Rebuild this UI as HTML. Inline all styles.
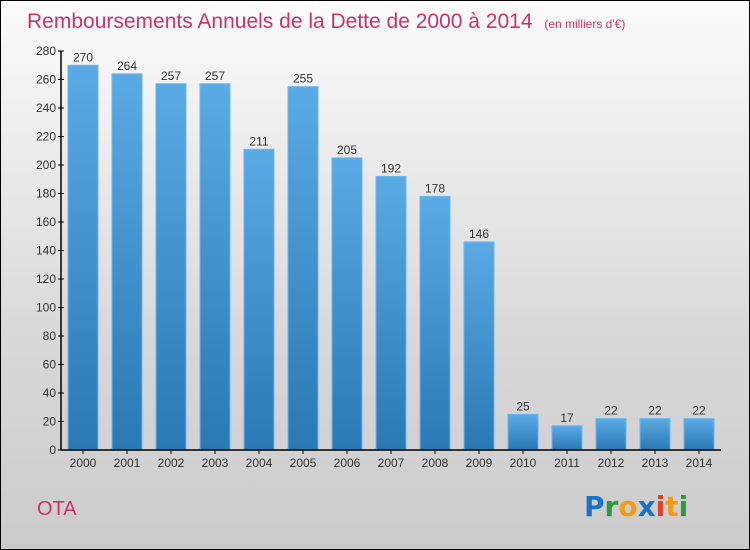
<!DOCTYPE html>
<html><head><meta charset="utf-8"><style>
body{margin:0}
#c{width:748px;height:548px;border:1px solid #000;background:linear-gradient(#fbfbfb,#d9d9d9 60%,#cbcbcb);position:relative;font-family:"Liberation Sans",sans-serif;overflow:hidden}
</style></head><body>
<div id="c">
<svg width="748" height="548" style="position:absolute;left:0;top:0">
<defs><linearGradient id="g" x1="0" y1="0" x2="0" y2="1"><stop offset="0" stop-color="#5aaae6"/><stop offset="1" stop-color="#2a78b4"/></linearGradient></defs>
<text x="26" y="27" font-size="21" fill="#c8346b">Remboursements Annuels de la Dette de 2000 à 2014 <tspan font-size="12" dx="6">(en milliers d'€)</tspan></text>
<g id="plot"></g>
<text x="36" y="514" font-size="20" fill="#c8346b">OTA</text>
<g font-size="28" font-weight="bold" font-family="DejaVu Sans, sans-serif">
<text x="583" y="515"><tspan fill="#1a73c8">P</tspan><tspan fill="#2a9a3a">r</tspan><tspan fill="#f39a1a">o</tspan><tspan fill="#1a73c8">x</tspan><tspan fill="#e0402a">i</tspan><tspan fill="#f39a1a">t</tspan><tspan fill="#2a9a3a">i</tspan></text></g>
</svg>
</div>
<script>
const years=["2000","2001","2002","2003","2004","2005","2006","2007","2008","2009","2010","2011","2012","2013","2014"];
const values=[270,264,257,257,211,255,205,192,178,146,25,17,22,22,22];
const yTicks=[0,20,40,60,80,100,120,140,160,180,200,220,240,260,280];
const NS="http://www.w3.org/2000/svg";
const x0=60,band=44,y0=449,yMax=280,ph=399;
const y=v=>y0-v/yMax*ph;
const g=document.getElementById('plot');
function mk(t,a,txt){const e=document.createElementNS(NS,t);for(const k in a)e.setAttribute(k,a[k]);if(txt!==undefined)e.textContent=txt;g.appendChild(e);return e;}
yTicks.forEach(t=>{
const l=mk('line',{x1:x0-3,x2:x0+3,y1:y(t),y2:y(t),stroke:'#000'});


const tx=mk('text',{x:x0-5,y:y(t)+4,'font-size':12,fill:'#333','text-anchor':'end'},t);


});
values.forEach((v,i)=>{
const bx=x0+i*band+7;
const r=mk('rect',{x:bx,y:y(v),width:30,height:y0-y(v),fill:'url(#g)',stroke:'#6bb6ec','stroke-width':1});


const vl=mk('text',{x:bx+15,y:y(v)-4,'font-size':12,fill:'#333','text-anchor':'middle'},v);


const tk=mk('line',{x1:bx+15,x2:bx+15,y1:y0,y2:y0+4,stroke:'#000'});


const xl=mk('text',{x:bx+15,y:y0+17,'font-size':12,fill:'#333','text-anchor':'middle'},years[i]);


});
const ya=mk('line',{x1:x0,x2:x0,y1:y(yMax),y2:y0,stroke:'#000','stroke-width':1.5});


const xa=mk('line',{x1:x0,x2:x0+band*15,y1:y0,y2:y0,stroke:'#000','stroke-width':1.5});


</script>
</body></html>
